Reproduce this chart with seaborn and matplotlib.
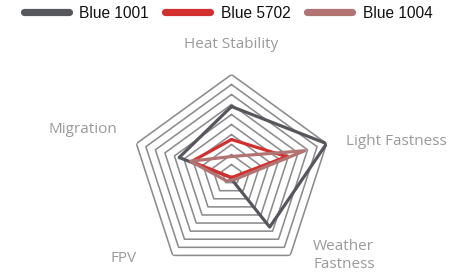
import numpy as np
import pandas as pd
import seaborn as sns
from matplotlib import pyplot as plt

# radar axes, clockwise from the top
categories = ["Heat Stability", "Light Fastness", "Weather\nFastness", "FPV", "Migration"]
series_names = ["Blue 1001", "Blue 5702", "Blue 1004"]
blue_1001 = [6.8, 10, 6.5, 0.3, 5.5]
blue_5702 = [3.5, 5.8, 0.3, 0.3, 4.2]
blue_1004 = [1.8, 7.7, 0.6, 0.8, 4.3]
ring_levels = list(range(1, 11))

colors = ["#55575c", "#d42f2f", "#b27373"]

sns.set_theme(style="white")
plt.rcParams["font.family"] = ["Liberation Sans", "DejaVu Sans"]

angles = np.linspace(0, 2 * np.pi, len(categories), endpoint=False)
closed = np.append(angles, 2 * np.pi)

rows = []
for name, vals in zip(series_names, [blue_1001, blue_5702, blue_1004]):
    for a, v in zip(closed, vals + vals[:1]):
        rows.append({"angle": a, "value": v, "series": name})
df = pd.DataFrame(rows)

fig = plt.figure(figsize=(4.73, 2.77), dpi=100)
ax = fig.add_axes([0.278, 0.009, 0.4228, 0.722], projection="polar")
ax.set_theta_offset(np.pi / 2)
ax.set_theta_direction(-1)

for lvl in ring_levels:
    ax.plot(closed, [lvl] * len(closed), color="#8c8c8c", lw=1.15, zorder=1)

sns.lineplot(data=df, x="angle", y="value", hue="series", sort=False,
             estimator=None, palette=colors, linewidth=2.3, ax=ax, zorder=3)

ax.set_ylim(0, 10)
ax.set_axis_off()

# axis names
offsets = [(0, 30, "center"), (19, 2, "left"), (23, 0, "left"), (-36, -3, "right"), (-19, 14, "right")]
for a, lab, (dx, dy, ha) in zip(angles, categories, offsets):
    ax.annotate(lab, xy=(a, 10), xytext=(dx, dy), textcoords="offset pixels",
                ha=ha, va="center", color="#9a9a9a", fontsize=11,
                family=["Open Sans", "DejaVu Sans"], linespacing=1.3)

handles, labels = ax.get_legend_handles_labels()
leg = fig.legend(handles, labels, loc="center", bbox_to_anchor=(0.482, 0.953),
                 ncol=3, frameon=False, fontsize=11.2, handlelength=2.9,
                 handletextpad=0.68, columnspacing=1.05, borderaxespad=0)
for h in leg.legend_handles:
    h.set_linewidth(5.2)
    h.set_solid_capstyle("round")
for t in leg.get_texts():
    t.set_color("#111111")
if ax.get_legend():
    ax.get_legend().remove()

fig.savefig("out.png", dpi=100)
